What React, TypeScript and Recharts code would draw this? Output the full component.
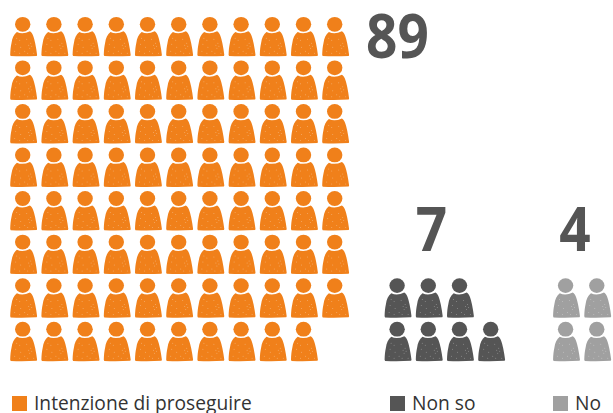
import React from "react";
import { ScatterChart, Scatter, XAxis, YAxis, Legend } from "recharts";

const CATEGORIES = ["Intenzione di proseguire", "Non so", "No"];
const TOTALS = [89, 7, 4];
// how many figures stand in each row of a block
const ORANGE_ROWS = [11, 11, 11, 11, 11, 11, 11, 10];
const DARK_ROWS = [3, 4];
const GREY_ROWS = [2, 2];

const COLORS = ["#F0801A", "#555555", "#A0A0A0"];
const WIDTH = 613;
const HEIGHT = 413;

// grid units: one column is 31.2px wide, one row 43.55px tall
const X_DOMAIN = [-0.7276, 18.92];
const Y_DOMAIN = [-0.558, 8.925];

const buildPeople = (rows: number[], startCol: number, startRow: number) =>
  rows.flatMap((count, r) =>
    Array.from({ length: count }, (_, c) => ({
      col: startCol + c,
      row: startRow + r,
    }))
  );

const orangePeople = buildPeople(ORANGE_ROWS, 0, 0);
const darkPeople = buildPeople(DARK_ROWS, 12, 6);
const greyPeople = buildPeople(GREY_ROWS, 17.4, 6);

const totalLabels = [
  { col: 12.01, row: 0.774, value: TOTALS[0] },
  { col: 13.1, row: 5.205, value: TOTALS[1] },
  { col: 17.7, row: 5.205, value: TOTALS[2] },
];

// light flecks in the body print
const FLECKS = [
  [-6, 14], [-3, 16], [-7, 20], [-2, 23], [-8, 27], [4, 15], [6, 21],
  [8, 19], [7, 24], [9, 22], [2, 27], [-3, 29], [11, 29], [5, 29],
];

const Person = ({ cx, cy, fill }: any) => (
  <g transform={`translate(${cx},${cy})`}>
    <ellipse cx={0} cy={0} rx={7.7} ry={7.4} fill={fill} />
    <path
      d="M-5.8 7.7 Q0 10.4 7.2 7 C10 8.4 11.4 13.6 12.5 19 C13.3 23 14 27 14.4 30.6 L14 31.6 Q1 32.4 -12 31.8 L-12.5 30.6 C-12.4 26 -12 22 -11.2 18.6 C-10.6 14 -8.8 10 -5.8 7.7 Z"
      fill={fill}
    />
    {FLECKS.map(([x, y], i) => (
      <circle key={i} cx={x} cy={y} r={0.5} fill="#fff" opacity={0.35} />
    ))}
  </g>
);

const TotalLabel = ({ cx, cy, payload }: any) => (
  <text
    transform={`translate(${cx},${cy}) scale(0.9,1)`}
    textAnchor="middle"
    fontFamily="'Open Sans', sans-serif"
    fontWeight={700}
    fontSize={61}
    fill="#555555"
  >
    {payload.value}
  </text>
);

const LEGEND_LEFT = [12, 390, 553];

const LegendRow = () => (
  <div style={{ position: "relative", width: WIDTH, height: 20 }}>
    {CATEGORIES.map((name, i) => (
      <div key={name}>
        <div
          style={{
            position: "absolute",
            left: LEGEND_LEFT[i],
            top: 3,
            width: 15,
            height: 15,
            background: COLORS[i],
          }}
        />
        <div
          style={{
            position: "absolute",
            left: LEGEND_LEFT[i] + 22,
            top: 0,
            fontFamily: "'Open Sans', sans-serif",
            fontSize: 19.2,
            lineHeight: "20px",
            color: "#333333",
            whiteSpace: "nowrap",
          }}
        >
          {name}
        </div>
      </div>
    ))}
  </div>
);

export default function App() {
  return (
    <div
      style={{
        position: "absolute",
        left: 0,
        top: 0,
        width: WIDTH,
        height: HEIGHT,
        overflow: "hidden",
        background: "#fff",
      }}
    >
      <ScatterChart
        width={WIDTH}
        height={HEIGHT}
        margin={{ top: 0, right: 0, bottom: 0, left: 0 }}
      >
        <XAxis type="number" dataKey="col" domain={X_DOMAIN} hide />
        <YAxis type="number" dataKey="row" domain={Y_DOMAIN} reversed hide />
        <Legend
          layout="horizontal"
          verticalAlign="middle"
          content={<LegendRow />}
          wrapperStyle={{ left: 0, top: 393, width: WIDTH }}
        />
        <Scatter
          data={orangePeople}
          isAnimationActive={false}
          shape={(p: any) => <Person cx={p.cx} cy={p.cy} fill={COLORS[0]} />}
        />
        <Scatter
          data={darkPeople}
          isAnimationActive={false}
          shape={(p: any) => <Person cx={p.cx} cy={p.cy} fill={COLORS[1]} />}
        />
        <Scatter
          data={greyPeople}
          isAnimationActive={false}
          shape={(p: any) => <Person cx={p.cx} cy={p.cy} fill={COLORS[2]} />}
        />
        <Scatter
          data={totalLabels}
          isAnimationActive={false}
          shape={(p: any) => <TotalLabel {...p} />}
        />
      </ScatterChart>
    </div>
  );
}
